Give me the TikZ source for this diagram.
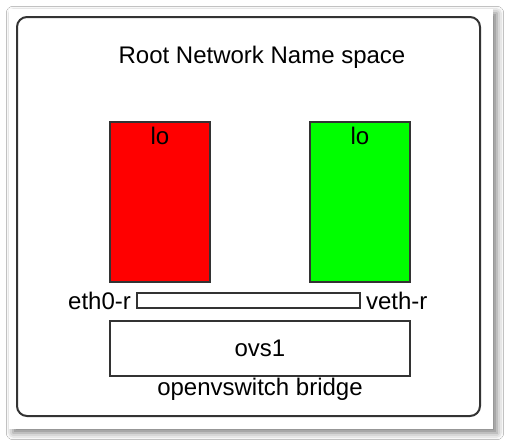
\documentclass[tikz,border=0pt]{standalone}
\usepackage{fontspec}
\setmainfont{Liberation Sans}
\usetikzlibrary{shadows.blur}
\begin{document}
\begin{tikzpicture}[x=0.75pt, y=-0.75pt,
    every node/.style={font=\fontsize{18}{21}\selectfont, inner sep=0pt},
    nsbox/.style={draw=black!80, line width=1.1pt, rectangle, minimum width=75pt, minimum height=120pt},
    portbar/.style={draw=black!80, line width=0.8pt, fill=white, minimum width=167.25pt, minimum height=11.25pt},
    bridgebox/.style={draw=black!80, line width=1.1pt, fill=white, minimum width=225pt, minimum height=41.25pt}]

       % Hier stehen die Zeichen-Befehle.
  \useasboundingbox (0,0) rectangle (508,444);
  \fill[white] (0,0) rectangle (508,444);
  \fill[white, blur shadow={shadow xshift=3pt, shadow yshift=-3pt, shadow blur radius=5pt, shadow opacity=50}] (9,9) rectangle (493,429);
  \draw[black!80, line width=1.5pt, rounded corners=7.5pt] (17,17) rectangle (480,416);
  \coordinate (xroot) at (262, 57);
  \coordinate (xlo1) at (160, 202);
  \coordinate (xlo2) at (360, 202);
  \coordinate (xbar) at (248.5, 300.5);
  \coordinate (xovs) at (260, 348.5);
  \coordinate (xbridge) at (260, 389);
  \node (root) at (xroot) {Root Network Name space};
  \node[nsbox, fill=red] (lo1) at (xlo1) {};
  \node[nsbox, fill=green] (lo2) at (xlo2) {};
  \node[anchor=north, yshift=-4pt] (t1) at (lo1.north) {lo};
  \node[anchor=north, yshift=-4pt] (t2) at (lo2.north) {lo};
  \node[portbar] (bar) at (xbar) {};
  \node[anchor=east, xshift=-4pt] (eth) at (bar.west) {eth0-r};
  \node[anchor=west, xshift=4pt] (veth) at (bar.east) {veth-r};
  \node[bridgebox] (ovs) at (xovs) {ovs1};
  \node (bridge) at (xbridge) {openvswitch bridge};

        \end{tikzpicture}
\end{document}
